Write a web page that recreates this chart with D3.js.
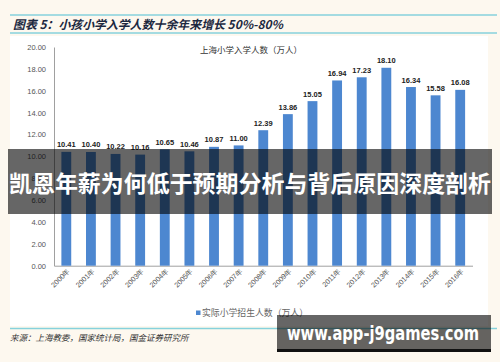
<!DOCTYPE html>
<html><head><meta charset="utf-8">
<script src="https://cdn.jsdelivr.net/npm/d3@7"></script>
<style>body{margin:0;background:#fdf8ef}svg{display:block}</style>
</head><body>
<svg id="c" width="500" height="362"></svg>
<script>
const years = ["2000年","2001年","2002年","2003年","2004年","2005年","2006年","2007年","2008年","2009年","2010年","2011年","2012年","2013年","2014年","2015年","2016年"];
const values = [10.41,10.40,10.22,10.16,10.65,10.46,10.87,11.00,12.39,13.86,15.05,16.94,17.23,18.10,16.34,15.58,16.08];
const yTicks = [0,2,4,6,8,10,12,14,16,18,20];
const pageTitle = "图表 5：小孩小学入学人数十余年来增长 50%-80%";
const chartTitle = "上海小学入学人数（万人）";
const legendLabel = "实际小学招生人数（万人）";
const sourceText = "来源：上海教委，国家统计局，国金证券研究所";
const bannerText = "凯恩年薪为何低于预期分析与背后原因深度剖析";
const urlText = "www.app-j9games.com";

const svg = d3.select("#c");
svg.append("rect").attr("width",500).attr("height",362).attr("fill","#fdf8ef");
svg.append("rect").attr("x",10).attr("y",36).attr("width",478).attr("height",290).attr("fill","#ffffff");

// title lines
svg.append("line").attr("x1",10).attr("x2",497).attr("y1",15).attr("y2",15).attr("stroke","#86d2dc").attr("stroke-width",1.5);
svg.append("line").attr("x1",10).attr("x2",497).attr("y1",33).attr("y2",33).attr("stroke","#86d2dc").attr("stroke-width",1.5);
svg.append("text").attr("x",13).attr("y",28.5).text(pageTitle)
  .attr("font-family","Noto Sans CJK SC").attr("font-weight","bold").attr("font-style","italic")
  .attr("font-size",12).attr("fill","#1c2840")
  .attr("textLength",270).attr("lengthAdjust","spacingAndGlyphs");

const x = d3.scaleBand().domain(years).range([54,472.5]).paddingInner(0.6).paddingOuter(0.3);
const y = d3.scaleLinear().domain([0,20]).range([265.7,47]);

// y axis
const ya = svg.append("g").attr("transform","translate(54,0)")
  .call(d3.axisLeft(y).tickValues(yTicks).tickFormat(d3.format(".2f")).tickSize(0).tickPadding(8));
ya.select(".domain").attr("stroke","#a0a0a0");
ya.selectAll("text").attr("font-family","Liberation Sans").attr("font-size",7.5).attr("fill","#555");

// x axis
const xa = svg.append("g").attr("transform","translate(0,265.7)")
  .call(d3.axisBottom(x).tickSize(0).tickSizeOuter(0));
xa.select(".domain").attr("stroke","#a0a0a0");
xa.selectAll("text").attr("font-family","Liberation Sans").attr("font-size",7.2).attr("fill","#555")
  .attr("text-anchor","end").attr("dy",0).attr("y",0)
  .attr("transform","translate(4,6) rotate(-45)");

// bars
svg.append("g").selectAll("rect").data(values).join("rect")
  .attr("x",(d,i)=>x(years[i])).attr("width",x.bandwidth())
  .attr("y",d=>y(d)).attr("height",d=>y(0)-y(d)).attr("fill","#4d87d0");

svg.append("g").selectAll("text").data(values).join("text")
  .attr("x",(d,i)=>x(years[i])+x.bandwidth()/2).attr("y",d=>y(d)-4.5)
  .attr("text-anchor","middle").attr("font-family","Liberation Sans").attr("font-weight","bold")
  .attr("font-size",7.5).attr("fill","#222").text(d=>d.toFixed(2));

svg.append("text").attr("x",251).attr("y",53).attr("text-anchor","middle").text(chartTitle)
  .attr("font-family","Noto Sans CJK SC").attr("font-size",8.5).attr("fill","#333");

// legend
svg.append("rect").attr("x",196).attr("y",310.5).attr("width",4.5).attr("height",4.5).attr("fill","#4d87d0");
svg.append("text").attr("x",202).attr("y",316).text(legendLabel)
  .attr("font-family","Noto Sans CJK SC").attr("font-size",9).attr("fill","#666")
  .attr("textLength",106).attr("lengthAdjust","spacingAndGlyphs");

// bottom line & source
svg.append("line").attr("x1",10).attr("x2",497).attr("y1",328.5).attr("y2",328.5).attr("stroke","#86d2dc").attr("stroke-width",1.5);
svg.append("text").attr("x",10).attr("y",340.5).text(sourceText)
  .attr("font-family","Noto Sans CJK SC").attr("font-style","italic").attr("font-size",8.5).attr("fill","#333");

// overlay banner
svg.append("rect").attr("x",8).attr("y",149).attr("width",484).attr("height",65).attr("fill","rgba(0,0,0,0.6)");
svg.append("text").attr("x",250).attr("y",192).attr("text-anchor","middle").text(bannerText)
  .attr("font-family","Noto Sans CJK SC").attr("font-weight","bold").attr("font-size",23).attr("fill","#fff")
  .attr("textLength",482).attr("lengthAdjust","spacingAndGlyphs");

// url box
svg.append("rect").attr("x",277).attr("y",315).attr("width",214).attr("height",37).attr("fill","rgba(0,0,0,0.6)");
svg.append("rect").attr("x",277).attr("y",349).attr("width",214).attr("height",3).attr("fill","#111");
svg.append("text").attr("x",287).attr("y",340).text(urlText)
  .attr("font-family","DejaVu Sans").attr("font-weight","bold").attr("font-size",19).attr("fill","#fff")
  .attr("textLength",192).attr("lengthAdjust","spacingAndGlyphs");
</script>
</body></html>
